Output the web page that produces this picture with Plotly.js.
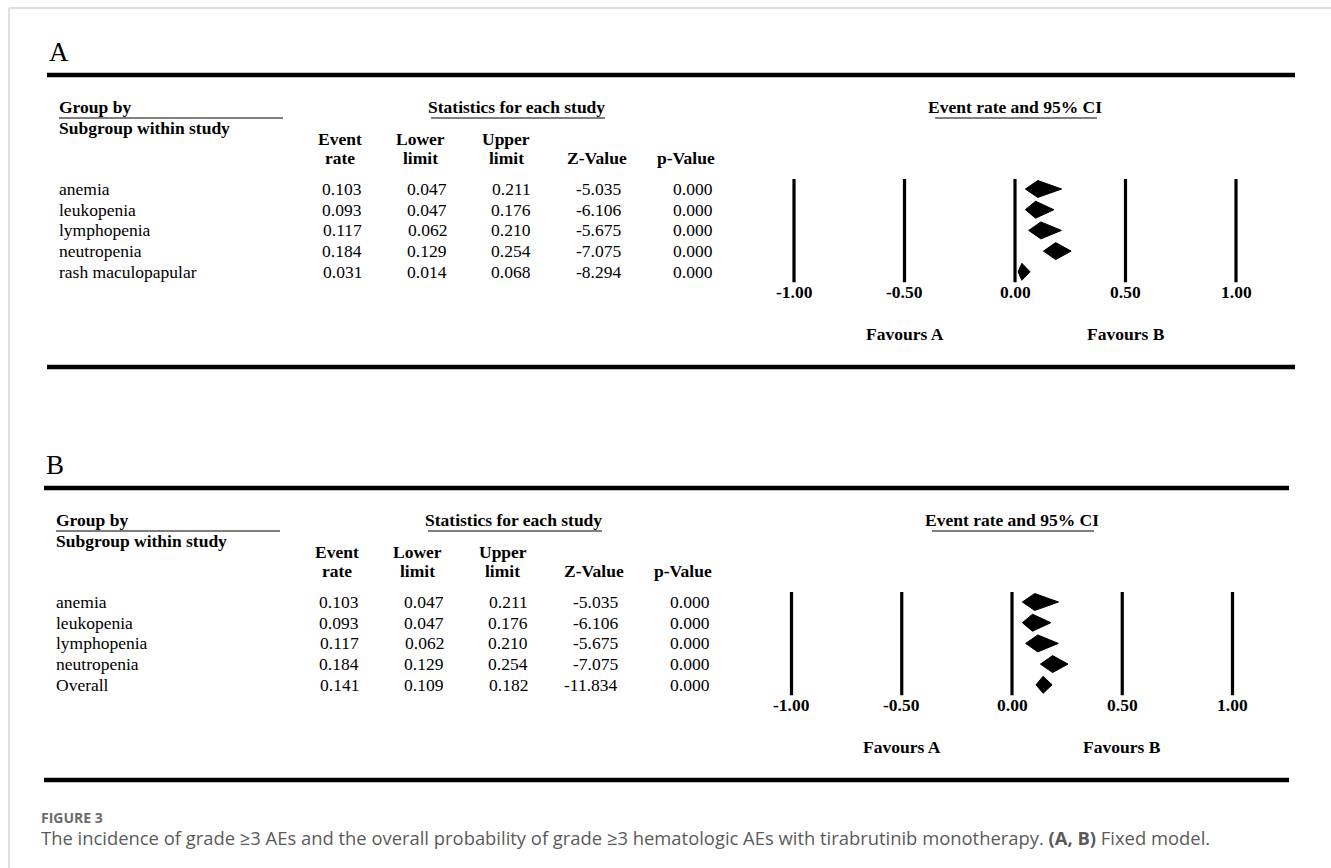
<!DOCTYPE html>
<html>
<head>
<meta charset="utf-8">
<script src="https://cdn.plot.ly/plotly-3.0.1.min.js"></script>
<style>html,body{margin:0;padding:0;background:#fff;}#chart{width:1331px;height:868px;}</style>
</head>
<body>
<div id="chart"></div>
<script>
// ---------- DATA ----------
const subgroupsA = ['anemia', 'leukopenia', 'lymphopenia', 'neutropenia', 'rash maculopapular'];
const eventRateA = [0.103, 0.093, 0.117, 0.184, 0.031];
const lowerLimitA = [0.047, 0.047, 0.062, 0.129, 0.014];
const upperLimitA = [0.211, 0.176, 0.210, 0.254, 0.068];
const zValueA = [-5.035, -6.106, -5.675, -7.075, -8.294];
const pValueA = [0.000, 0.000, 0.000, 0.000, 0.000];

const subgroupsB = ['anemia', 'leukopenia', 'lymphopenia', 'neutropenia', 'Overall'];
const eventRateB = [0.103, 0.093, 0.117, 0.184, 0.141];
const lowerLimitB = [0.047, 0.047, 0.062, 0.129, 0.109];
const upperLimitB = [0.211, 0.176, 0.210, 0.254, 0.182];
const zValueB = [-5.035, -6.106, -5.675, -7.075, -11.834];
const pValueB = [0.000, 0.000, 0.000, 0.000, 0.000];

const axisTicks = [-1.00, -0.50, 0.00, 0.50, 1.00];
const panelLabels = ['A', 'B'];
const favourLabels = ['Favours A', 'Favours B'];
const favourPositions = [-0.5, 0.5];

// ---------- LAYOUT HELPERS ----------
const W = 1331, H = 868;
const SERIF = 'Liberation Serif, Times New Roman, serif';
const FS = 17.5;
const px = x => x / W;
const py = y => 1 - y / H;

const traces = [];
const shapes = [];
const annotations = [];
const layoutAxes = {};

function txt(text, x, y, o) {
  o = o || {};
  annotations.push(Object.assign({
    text: text, x: px(x), y: py(y), xref: 'paper', yref: 'paper',
    xanchor: 'left', yanchor: 'middle', showarrow: false, borderpad: 0,
    font: {family: SERIF, size: FS, color: '#000'}
  }, o));
}
function line(x0, y0, x1, y1, w, c) {
  shapes.push({type: 'line', xref: 'paper', yref: 'paper',
    x0: px(x0), y0: py(y0), x1: px(x1), y1: py(y1),
    line: {color: c || '#000', width: w}});
}

function buildPanel(P) {
  const dx = P.dx, dy = P.dy, ax = P.ax;
  const xa = 'x' + ax, ya = 'y' + ax;
  const s = 20.7;
  const row0 = 189 + dy;
  const unit = P.unit;
  const zeroX = 1015 + dx;
  // axes
  const xL = zeroX - 1.2 * unit, xR = zeroX + 1.2 * unit;
  const yT = row0 - 1.5 * s, yB = row0 + 5.5 * s;
  layoutAxes['xaxis' + ax] = {domain: [px(xL), px(xR)], range: [-1.2, 1.2], visible: false, fixedrange: true,
    anchor: ya};
  layoutAxes['yaxis' + ax] = {domain: [py(yB), py(yT)], range: [5.5, -1.5], visible: false, fixedrange: true,
    anchor: xa};

  // panel letter & rules
  txt(P.label, 48 + dx, 52 + dy, {font: {family: SERIF, size: 27, color: '#000'}});
  line(47 + dx, 75 + dy, P.ruleEnd, 75 + dy, 4.5);
  line(47 + dx, 367 + dy, P.ruleEnd, 367 + dy, 4.5);

  // headers
  const b = t => '<b>' + t + '</b>';
  txt(b('Group by'), 58 + dx, 107 + dy);
  line(59 + dx, 118 + dy, 283 + dx, 118 + dy, 1.3, '#555');
  txt(b('Subgroup within study'), 58 + dx, 128 + dy);
  txt(b('Statistics for each study'), 516 + dx, 107 + dy, {xanchor: 'center'});
  line(431 + dx, 118 + dy, 605 + dx, 118 + dy, 1.3, '#555');
  txt(b('Event rate and 95% CI'), 1015 + dx, 107 + dy, {xanchor: 'center'});
  line(935 + dx, 118 + dy, 1097 + dx, 118 + dy, 1.3, '#555');

  const colHead = [[340, 'Event', 'rate'], [420, 'Lower', 'limit'], [506, 'Upper', 'limit'], [597, null, 'Z-Value'], [686, null, 'p-Value']];
  colHead.forEach(c => {
    if (c[1]) txt(b(c[1]), c[0] + dx, 139 + dy, {xanchor: 'center'});
    txt(b(c[2]), c[0] + dx, 158 + dy, {xanchor: 'center'});
  });

  // rows
  const cols = [[P.rate, 363], [P.lower, 448], [P.upper, 532], [P.z, 622], [P.p, 714]];
  P.names.forEach((n, i) => {
    annotations.push({text: n, x: px(58 + dx), y: i, xref: 'paper', yref: ya, xanchor: 'left', yanchor: 'middle',
      showarrow: false, borderpad: 0, font: {family: SERIF, size: FS, color: '#000'}});
    cols.forEach(c => {
      annotations.push({text: c[0][i].toFixed(3), x: px(c[1] + dx), y: i, xref: 'paper', yref: ya,
        xanchor: 'right', yanchor: 'middle', showarrow: false, borderpad: 0,
        font: {family: SERIF, size: FS, color: '#000'}});
    });
    // diamond
    const h = 0.41;
    traces.push({type: 'scatter', mode: 'lines', xaxis: xa, yaxis: ya,
      x: [P.lower[i], P.rate[i], P.upper[i], P.rate[i], P.lower[i]],
      y: [i, i - h, i, i + h, i], fill: 'toself', fillcolor: '#000',
      line: {color: '#000', width: 1}, hoverinfo: 'skip', showlegend: false});
  });

  // reference lines and tick labels
  axisTicks.forEach(t => {
    shapes.push({type: 'line', xref: xa, yref: ya, x0: t, x1: t, y0: -0.48, y1: 4.5,
      line: {color: '#000', width: 3.2}});
    annotations.push({text: '<b>' + t.toFixed(2) + '</b>', x: t, y: py(292 + dy), xref: xa, yref: 'paper',
      xanchor: 'center', yanchor: 'middle', showarrow: false, borderpad: 0,
      font: {family: SERIF, size: FS, color: '#000'}});
  });
  favourLabels.forEach((f, k) => {
    annotations.push({text: '<b>' + f + '</b>', x: favourPositions[k], y: py(334 + dy), xref: xa, yref: 'paper',
      xanchor: 'center', yanchor: 'middle', showarrow: false, borderpad: 0,
      font: {family: SERIF, size: FS, color: '#000'}});
  });
}

buildPanel({ax: '', dx: 0, dy: 0, unit: 221, ruleEnd: 1295, label: panelLabels[0],
  names: subgroupsA, rate: eventRateA, lower: lowerLimitA, upper: upperLimitA, z: zValueA, p: pValueA});
buildPanel({ax: '2', dx: -3, dy: 413, unit: 220.5, ruleEnd: 1289, label: panelLabels[1],
  names: subgroupsB, rate: eventRateB, lower: lowerLimitB, upper: upperLimitB, z: zValueB, p: pValueB});

// frame
line(9, 8, 1331, 8, 1.5, '#d4d4d4');
line(9, 8, 9, 868, 1.5, '#d4d4d4');

// caption
txt('<b>FIGURE 3</b>', 40, 817, {font: {family: 'Open Sans, sans-serif', size: 14, color: '#6b6b6b'}});
txt('The incidence of grade ≥3 AEs and the overall probability of grade ≥3 hematologic AEs with tirabrutinib monotherapy. <b>(A, B)</b> Fixed model.',
  40, 837, {font: {family: 'Open Sans, sans-serif', size: 18.4, color: '#5a5a5a'}});

const layout = Object.assign({
  width: W, height: H, margin: {l: 0, r: 0, t: 0, b: 0, pad: 0},
  paper_bgcolor: '#fff', plot_bgcolor: 'rgba(0,0,0,0)', showlegend: false,
  shapes: shapes, annotations: annotations
}, layoutAxes);

Plotly.newPlot('chart', traces, layout, {staticPlot: true, displayModeBar: false});
</script>
</body>
</html>
